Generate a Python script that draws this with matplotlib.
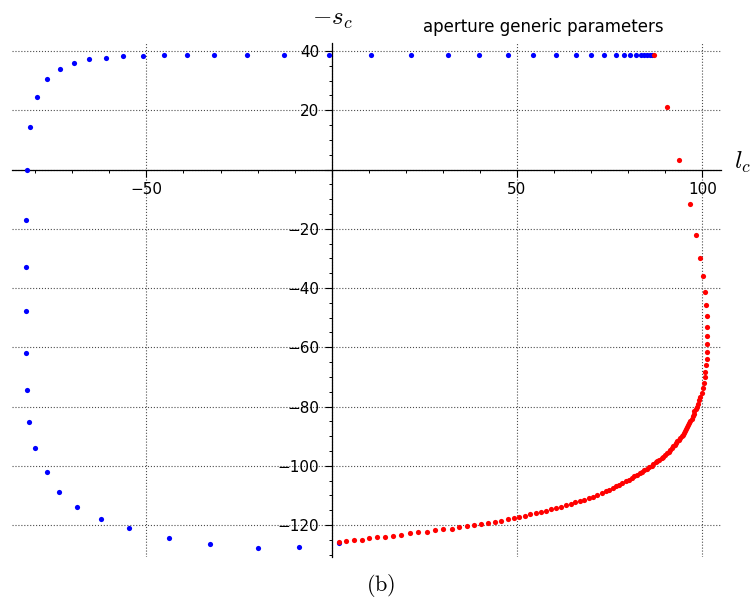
import numpy as np
import matplotlib
matplotlib.use("Agg")
import matplotlib.pyplot as plt
from matplotlib.ticker import MultipleLocator, FuncFormatter

plt.rcParams['mathtext.fontset'] = 'cm'

# blue family: sampled points, top branch then left/bottom branch
blue_l = [86.5, 85.8, 85.0, 84.3, 83.5, 82.1, 80.5, 78.8, 76.6, 73.5, 69.9, 65.8,
          60.6, 54.4, 47.6, 39.8, 31.4, 21.3, 10.5, -0.7, -12.8, -22.9, -31.8,
          -39.0, -45.3, -51.0, -56.4, -60.9, -65.5, -69.6, -73.2, -76.9, -79.6,
          -81.5, -82.3,
          -82.5, -82.6, -82.6, -82.6, -82.3, -81.6, -80.0, -76.8, -73.5, -68.7,
          -62.2, -54.8, -44.0, -32.9, -20.0, -8.8, 2.0]
blue_s = [38.8, 38.8, 38.8, 38.8, 38.8, 38.8, 38.8, 38.8, 38.8, 38.8, 38.8, 38.8,
          38.8, 38.8, 38.8, 38.8, 38.8, 38.8, 38.8, 38.8, 38.8, 38.8, 38.8,
          38.7, 38.6, 38.4, 38.2, 37.7, 37.2, 36.0, 34.0, 30.7, 24.4,
          14.4, 0.0,
          -17.2, -33.0, -47.7, -61.8, -74.4, -85.1, -94.0, -102.0, -108.8, -113.9,
          -117.9, -121.1, -124.3, -126.5, -127.6, -127.4, -126.0]

# red family
red_l = [2.0, 3.9, 5.9, 8.1, 10.2, 12.3, 14.5, 16.6, 18.8, 21.0, 23.3, 25.6,
         27.9, 30.1, 32.4, 34.4, 36.4, 38.4, 40.3, 42.2, 44.0, 45.8, 47.5, 49.1,
         50.6, 52.2, 53.6, 55.1, 56.5, 57.9, 59.3, 60.6, 62.0, 63.2, 64.5, 65.7,
         67.0, 68.2, 69.4, 70.5, 71.7, 72.9, 74.0,
         74.9, 75.8, 76.6, 77.5, 78.4, 79.3, 80.1, 81.0,
         81.7, 82.5, 83.2,
         83.8, 84.4, 85.1, 85.7, 86.3,
         86.8, 87.4, 87.9, 88.4, 89.0, 89.5,
         90.0, 90.4, 90.9, 91.3, 91.8, 92.2,
         92.6, 92.9, 93.3, 93.6, 94.0, 94.4, 94.7, 95.1,
         95.4, 95.7, 96.0, 96.2, 96.5, 96.8, 97.1,
         97.4, 97.7, 97.9, 98.2, 98.5,
         98.8, 99.2, 99.5,
         99.8, 100.1, 100.4, 100.6, 100.8, 101.0, 101.2, 101.3, 101.4, 101.4,
         101.4, 101.3, 101.0, 100.6, 100.2, 99.3, 98.2, 96.6, 93.8, 90.4, 87.1]
red_s = [-125.9, -125.5, -125.2, -124.9, -124.5, -124.2, -123.9, -123.6, -123.3,
         -122.8, -122.5, -122.2, -121.8, -121.5, -121.2, -120.8, -120.5, -120.0,
         -119.7, -119.4, -118.9, -118.5, -118.0, -117.7, -117.2, -116.8, -116.3,
         -116.0, -115.6, -115.2, -114.7, -114.3, -113.8, -113.3, -112.8, -112.4,
         -111.8, -111.4, -110.9, -110.4, -109.8, -109.2, -108.6,
         -108.1, -107.5, -107.0, -106.4, -105.9, -105.3, -104.8, -104.2,
         -103.6, -103.1, -102.5,
         -102.0, -101.5, -101.0, -100.5, -100.0,
         -99.5, -98.9, -98.4, -97.9, -97.4, -96.9,
         -96.3, -95.8, -95.2, -94.6, -94.1, -93.5,
         -92.9, -92.4, -91.8, -91.3, -90.7, -90.1, -89.6, -89.0,
         -88.3, -87.6, -86.9, -86.2, -85.5, -84.8, -84.1,
         -83.3, -82.5, -81.6, -80.8, -80.0,
         -79.0, -77.9, -76.9,
         -75.3, -73.6, -72.1, -70.2, -68.3, -66.1, -64.0, -61.6, -59.0, -56.1,
         -53.0, -49.5, -45.7, -41.2, -36.1, -30.0, -22.2, -11.8, 3.3, 21.1, 38.7]

W, H = 755, 608
fig = plt.figure(figsize=(W / 100, H / 100), dpi=100)
ax = fig.add_axes([11.7 / W, 1 - 556.7 / H, 709.0 / W, 513.4 / H])

ax.scatter(blue_l, blue_s, s=14, color='#0000ff', linewidths=0, zorder=3)
ax.scatter(red_l, red_s, s=14, color='#ff0000', linewidths=0, zorder=4)

ax.set_xlim(-86.35, 104.97)
ax.set_ylim(-130.7, 42.6)

# axes through the origin, sage style
for side in ('top', 'right'):
    ax.spines[side].set_visible(False)
ax.spines['left'].set_position(('data', 0))
ax.spines['bottom'].set_position(('data', 0))
for side in ('left', 'bottom'):
    ax.spines[side].set_linewidth(0.9)

ax.xaxis.set_major_locator(MultipleLocator(50))
ax.xaxis.set_minor_locator(MultipleLocator(10))
ax.yaxis.set_major_locator(MultipleLocator(20))
ax.yaxis.set_minor_locator(MultipleLocator(5))

def fmt(v, pos):
    if abs(v) < 1e-9:
        return ''
    return ('%g' % v).replace('-', '\u2212')

ax.xaxis.set_major_formatter(FuncFormatter(fmt))
ax.yaxis.set_major_formatter(FuncFormatter(fmt))
ax.tick_params(which='major', length=5, width=0.8, labelsize=11, pad=4)
ax.tick_params(which='minor', length=2.5, width=0.7)

ax.grid(True, which='major', linestyle=':', color='0.3', linewidth=0.8)
ax.set_axisbelow(True)

fig.text(332 / W, 1 - 25 / H, r'$-s_c$', fontsize=18, ha='center', va='baseline')
fig.text(734 / W, 1 - 168.3 / H, r'$l_c$', fontsize=18, ha='left', va='baseline')
fig.text(543.7 / W, 1 - 32.3 / H, 'aperture generic parameters', fontsize=12,
         ha='center', va='baseline')
fig.text(381 / W, 1 - 590.7 / H, r'$\mathrm{(b)}$', fontsize=16, ha='center',
         va='baseline')

fig.savefig('out.png', dpi=100)
